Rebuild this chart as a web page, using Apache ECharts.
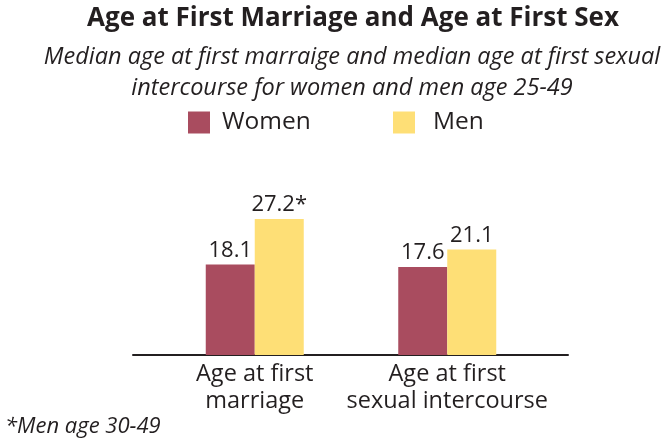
<!DOCTYPE html>
<html>
<head>
<meta charset="utf-8">
<script src="https://cdn.jsdelivr.net/npm/echarts@6/dist/echarts.min.js"></script>
<style>
    html, body { margin: 0; padding: 0; background: #fff; }
    #main { width: 663px; height: 440px; }
</style>
</head>
<body>
<div id="main"></div>
<script>
// data
const categories = ['Age at first\nmarriage', 'Age at first\nsexual intercourse']
const women = [18.1, 17.6]
const men = [27.2, 21.1]
const menNotes = ['*', '']

const colors = { women: '#a94c5f', men: '#fedf76', ink: '#231f20' }
const font = '"Open Sans", "DejaVu Sans", sans-serif'

const chart = echarts.init(document.getElementById('main'))

chart.setOption({
    animation: false,
    textStyle: { fontFamily: font, color: colors.ink },
    title: [
        {
            text: 'Age at First Marriage and Age at First Sex',
            left: 348,
            top: 1,
            textAlign: 'center',
            textStyle: { fontSize: 26, fontWeight: 'bold', color: colors.ink, fontFamily: font },
        },
        {
            text: 'Median age at first marraige and median age at first sexual\nintercourse for women and men age 25-49',
            left: 347,
            top: 37,
            textAlign: 'center',
            textStyle: { fontSize: 23.5, fontStyle: 'italic', fontWeight: 'normal', lineHeight: 31, color: colors.ink, fontFamily: font },
        },
        {
            text: '*Men age 30-49',
            left: 0,
            top: 411,
            textStyle: { fontSize: 22, fontStyle: 'italic', fontWeight: 'normal', color: colors.ink, fontFamily: font },
        },
    ],
    legend: [
        {
            data: ['Women'],
            left: 183,
            top: 105,
            itemWidth: 22,
            itemHeight: 22,
            icon: 'rect',
            textStyle: { fontSize: 24.5, color: colors.ink, padding: [0, 0, 0, 7] },
        },
        {
            data: ['Men'],
            left: 388,
            top: 105,
            itemWidth: 22,
            itemHeight: 22,
            icon: 'rect',
            textStyle: { fontSize: 24.5, color: colors.ink, padding: [0, 0, 0, 13] },
        },
    ],
    grid: [
        { left: 158.5, right: 119.5, top: 205, bottom: 85 },
        // wider grid only for the baseline, which runs past the bars
        { left: 133, right: 95, top: 205, bottom: 85 },
    ],
    xAxis: [
        {
            type: 'category',
            gridIndex: 0,
            data: categories,
            axisLine: { show: false },
            axisTick: { show: false },
            axisLabel: { interval: 0, fontSize: 23.5, lineHeight: 27, color: colors.ink, margin: 6 },
        },
        {
            type: 'value',
            gridIndex: 1,
            axisLine: { show: true, onZero: false, lineStyle: { color: colors.ink, width: 2 } },
            axisTick: { show: false },
            axisLabel: { show: false },
            splitLine: { show: false },
        },
    ],
    yAxis: [
        { type: 'value', gridIndex: 0, min: 0, max: 30, show: false },
        { type: 'value', gridIndex: 1, min: 0, max: 30, show: false },
    ],
    series: [
        {
            name: 'Women',
            type: 'bar',
            data: women,
            barWidth: 49,
            barGap: '0%',
            itemStyle: { color: colors.women },
            label: { show: true, position: 'top', distance: 3, fontSize: 22, color: colors.ink },
        },
        {
            name: 'Men',
            type: 'bar',
            data: men,
            barWidth: 49,
            barGap: '0%',
            itemStyle: { color: colors.men },
            label: {
                show: true,
                position: 'top',
                distance: 3,
                fontSize: 22,
                color: colors.ink,
                formatter: (p) => p.value + menNotes[p.dataIndex],
            },
        },
    ],
})
</script>
</body>
</html>
